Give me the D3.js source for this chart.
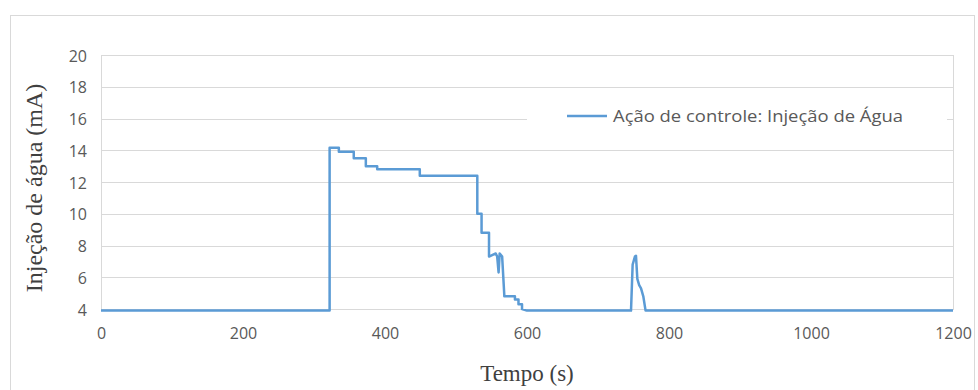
<!DOCTYPE html>
<html>
<head>
<meta charset="utf-8">
<script src="https://cdn.jsdelivr.net/npm/d3@7"></script>
<style>
  body { margin: 0; background: #fff; }
  svg { display: block; }
</style>
</head>
<body>
<svg id="chart" width="978" height="390"></svg>
<script>
// tempo (s) e injeção (mA)
var tempo = [0, 322, 322, 335, 335, 356, 356, 373, 373, 389, 389, 449, 449, 530, 530, 536, 536, 546.5,
             546.5, 556, 558, 560, 561.5, 565, 568, 568, 583, 583, 588, 588, 593, 593, 600,
             746.5, 748.8, 752, 753.5, 755.4, 758, 760.6, 763.8, 767, 1200];
var injecao = [3.9, 3.9, 14.15, 14.15, 13.9, 13.9, 13.5, 13.5, 13.0, 13.0, 12.8, 12.8, 12.4, 12.4, 10.0, 10.0, 8.8, 8.8,
               7.3, 7.5, 7.3, 6.3, 7.5, 7.3, 4.9, 4.8, 4.8, 4.6, 4.6, 4.3, 4.3, 4.0, 3.9,
               3.9, 6.8, 7.3, 7.35, 5.9, 5.5, 5.3, 4.8, 3.9, 3.9];
var xTicks = [0, 200, 400, 600, 800, 1000, 1200];
var yTicks = [4, 6, 8, 10, 12, 14, 16, 18, 20];
var legendLabel = "Ação de controle: Injeção de Água";

(function(){
var svg = d3.select("#chart");
var pL = 101, pR = 953, pT = 55, pB = 309;

// moldura externa
svg.append("rect")
    .attr("x", 10.5).attr("y", 15.5)
    .attr("width", 964).attr("height", 400)
    .attr("fill", "none").attr("stroke", "#d9d9d9");

var x = d3.scaleLinear().domain([0, 1200]).range([pL, pR]);
var y = d3.scaleLinear().domain([4, 20]).range([pB, pT]);

// grade
svg.append("g").selectAll("line").data(yTicks).enter().append("line")
    .attr("x1", pL).attr("x2", pR)
    .attr("y1", function(d){ return Math.round(y(d)) + 0.5; })
    .attr("y2", function(d){ return Math.round(y(d)) + 0.5; })
    .attr("stroke", "#d9d9d9").attr("stroke-width", 1);

svg.append("rect")
    .attr("x", pL + 0.5).attr("y", pT + 0.5)
    .attr("width", pR - pL).attr("height", pB - pT)
    .attr("fill", "none").attr("stroke", "#d9d9d9");

// eixos
var yAxis = svg.append("g")
    .attr("transform", "translate(" + (pL - 14) + ",1)")
    .call(d3.axisLeft(y).tickValues(yTicks).tickSize(0).tickPadding(0));
var xAxis = svg.append("g")
    .attr("transform", "translate(0," + (pB + 19) + ")")
    .call(d3.axisBottom(x).tickValues(xTicks).tickSize(0).tickPadding(0).tickFormat(d3.format("d")));
[yAxis, xAxis].forEach(function(a){
    a.select(".domain").remove();
    a.selectAll("text")
        .attr("fill", "#595959")
        .style("font-family", "'Open Sans', sans-serif")
        .style("font-size", "16px");
});

// legenda (fundo branco tapa a grade)
svg.append("rect")
    .attr("x", 527).attr("y", 101).attr("width", 420).attr("height", 32)
    .attr("fill", "#fff");
svg.append("line")
    .attr("x1", 567).attr("x2", 607).attr("y1", 116).attr("y2", 116)
    .attr("stroke", "#5b9bd5").attr("stroke-width", 2.5);
svg.append("text")
    .attr("x", 613).attr("y", 122)
    .attr("fill", "#595959")
    .attr("textLength", 290)
    .attr("lengthAdjust", "spacingAndGlyphs")
    .style("font-family", "'Open Sans', sans-serif")
    .style("font-size", "17px")
    .text(legendLabel);

// série
var line = d3.line()
    .x(function(d){ return x(d[0]); })
    .y(function(d){ return y(d[1]); });
svg.append("path")
    .datum(d3.zip(tempo, injecao))
    .attr("d", line)
    .attr("fill", "none")
    .attr("stroke", "#5b9bd5")
    .attr("stroke-width", 2.5)
    .attr("stroke-linejoin", "round");

// títulos dos eixos
svg.append("text")
    .attr("transform", "translate(42,188) rotate(-90)")
    .attr("text-anchor", "middle")
    .attr("fill", "#404040")
    .style("font-family", "'Liberation Serif', serif")
    .style("font-size", "24px")
    .text("Injeção de água (mA)");
svg.append("text")
    .attr("x", 527).attr("y", 381)
    .attr("text-anchor", "middle")
    .attr("fill", "#404040")
    .style("font-family", "'Liberation Serif', serif")
    .style("font-size", "23px")
    .text("Tempo (s)");
})();
</script>
</body>
</html>
